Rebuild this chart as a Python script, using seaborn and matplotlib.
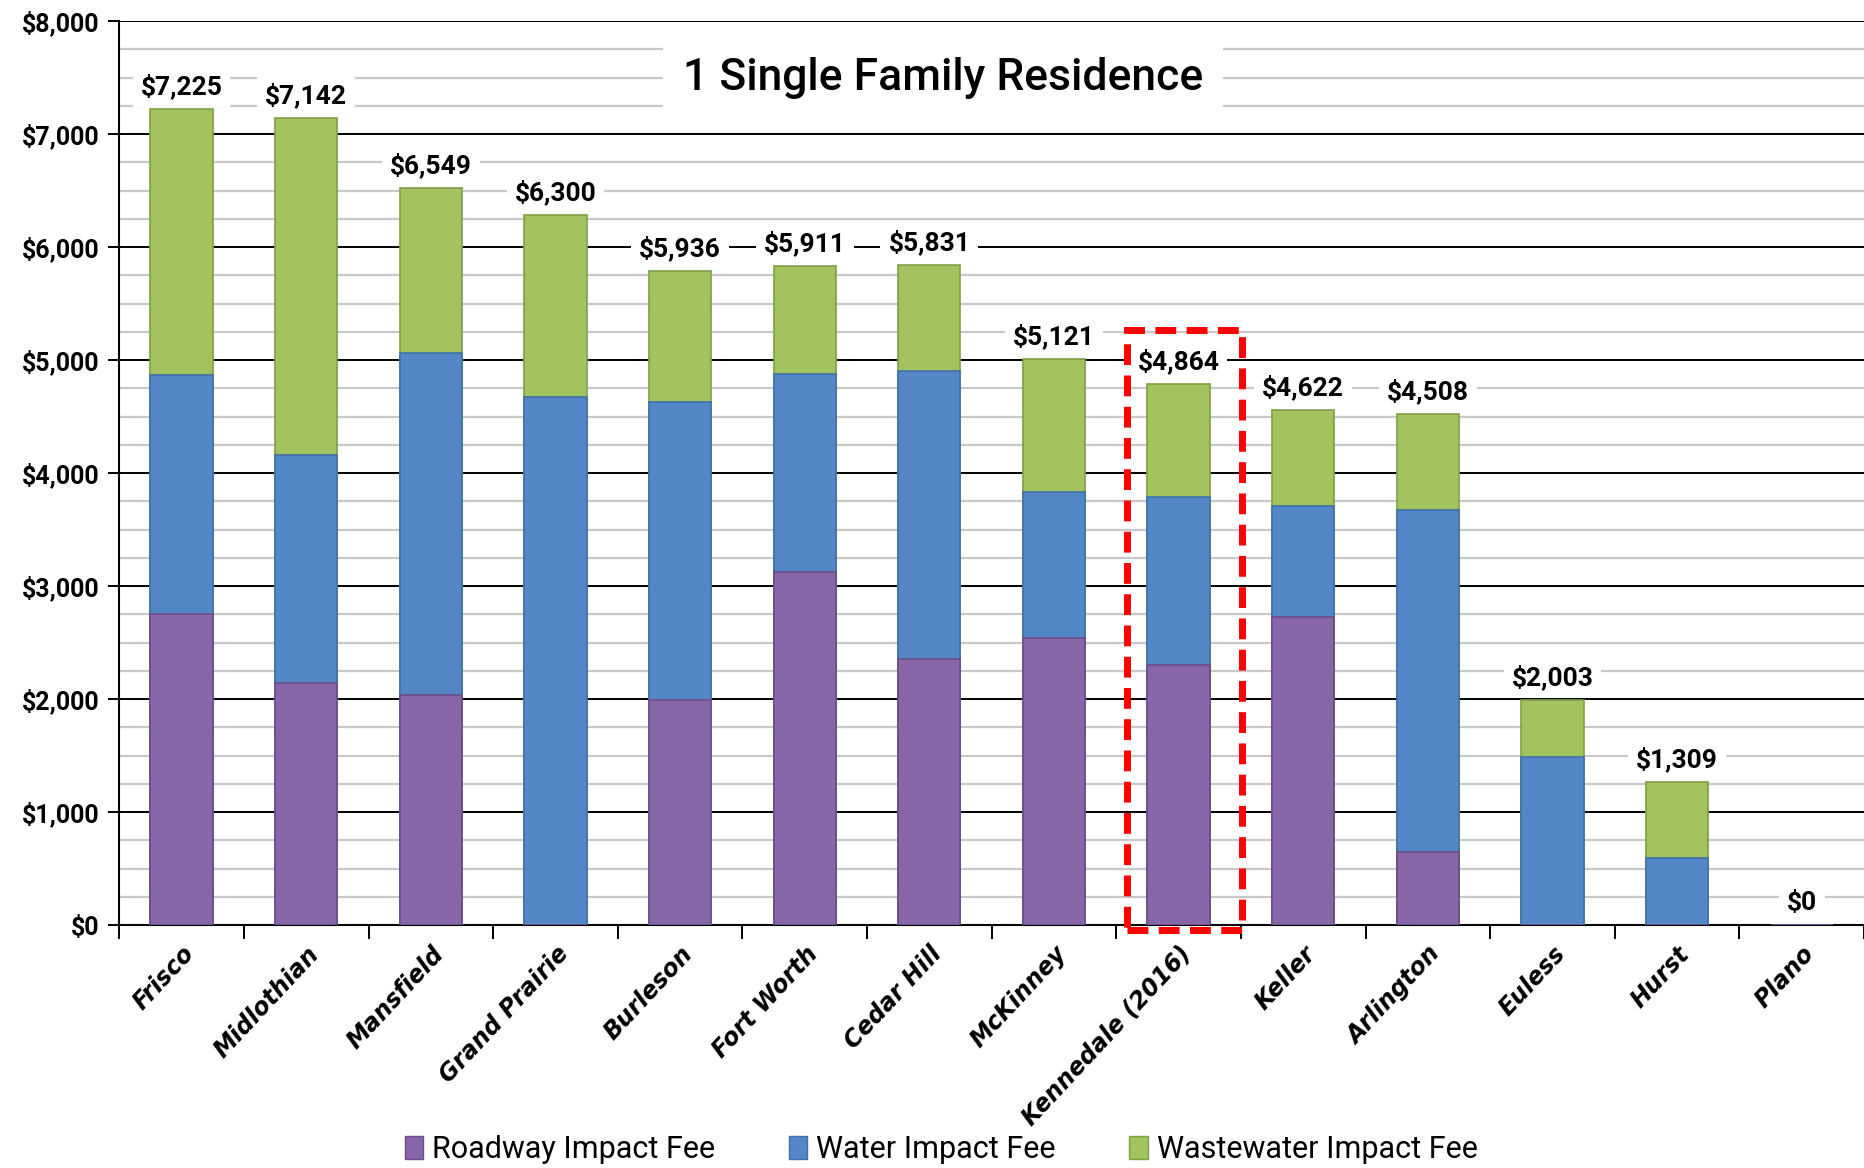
import matplotlib
matplotlib.use("Agg")
import numpy as np
import pandas as pd
import matplotlib.pyplot as plt
import seaborn as sns
from matplotlib.patches import Rectangle, Patch
from matplotlib.ticker import MultipleLocator, FuncFormatter

cities = ["Frisco", "Midlothian", "Mansfield", "Grand Prairie", "Burleson", "Fort Worth",
          "Cedar Hill", "McKinney", "Kennedale (2016)", "Keller", "Arlington", "Euless",
          "Hurst", "Plano"]
roadway = [2750, 2140, 2040, 0, 1990, 3125, 2350, 2540, 2305, 2730, 650, 0, 0, 0]
water = [2120, 2020, 3020, 4670, 2640, 1750, 2555, 1290, 1485, 975, 3020, 1490, 590, 0]
wastewater = [2355, 2982, 1460, 1615, 1160, 960, 935, 1180, 1000, 855, 850, 500, 680, 0]
total_labels = ["$7,225", "$7,142", "$6,549", "$6,300", "$5,936", "$5,911", "$5,831",
                "$5,121", "$4,864", "$4,622", "$4,508", "$2,003", "$1,309", "$0"]
series_names = ["Roadway Impact Fee", "Water Impact Fee", "Wastewater Impact Fee"]
colors = ["#8767A8", "#5387C7", "#A2C35E"]
edges = ["#6A4E88", "#3F6FA8", "#7F9E45"]

df = pd.DataFrame({"city": cities, "roadway": roadway, "water": water, "wastewater": wastewater})
df["lvl1"] = df["roadway"]
df["lvl2"] = df["roadway"] + df["water"]
df["lvl3"] = df["lvl2"] + df["wastewater"]

sns.set_style("white")
plt.rcParams["font.family"] = ["Roboto", "DejaVu Sans"]
plt.rcParams["text.color"] = "black"
plt.rcParams["xtick.color"] = "black"
plt.rcParams["ytick.color"] = "black"

fig = plt.figure(figsize=(18.64, 11.68), dpi=100)
ax = fig.add_axes([0.064, 0.208, 0.936, 0.774])

# draw back to front so the cumulative bars look stacked
for col, c, e in zip(["lvl3", "lvl2", "lvl1"], colors[::-1], edges[::-1]):
    sns.barplot(data=df, x="city", y=col, color=c, width=0.5, edgecolor=e,
                linewidth=1.2, saturation=1, ax=ax, zorder=3)

ax.set_ylim(0, 8000)
ax.set_xlim(-0.5, len(cities) - 0.5)
ax.yaxis.set_major_locator(MultipleLocator(1000))
ax.yaxis.set_minor_locator(MultipleLocator(250))
ax.yaxis.set_major_formatter(FuncFormatter(lambda v, p: f"${v:,.0f}"))
ax.grid(which="minor", axis="y", color="#C8C8C8", linewidth=1.6, zorder=0)
ax.grid(which="major", axis="y", color="black", linewidth=1.4, zorder=1)
ax.set_axisbelow(True)
ax.set_xlabel("")
ax.set_ylabel("")

for s in ["top", "right"]:
    ax.spines[s].set_visible(False)
for s in ["left", "bottom"]:
    ax.spines[s].set_color("black")
    ax.spines[s].set_linewidth(1.5)

ax.tick_params(axis="y", which="major", length=8, width=1.4, color="black", left=True,
               labelsize=18, pad=6)
ax.tick_params(axis="y", which="minor", length=0)
for t in ax.get_yticklabels():
    t.set_fontweight("bold")

ax.set_xticks(np.arange(len(cities)))
ax.set_xticks(np.arange(len(cities) + 1) - 0.5, minor=True)
ax.tick_params(axis="x", which="major", length=0, pad=12)
ax.tick_params(axis="x", which="minor", length=10, width=1.4, color="black", bottom=True)
ax.set_xticklabels(cities, rotation=47, ha="right", rotation_mode="anchor",
                   fontsize=17, fontweight="bold", fontstyle="italic",
                   family=["DejaVu Sans"])

for i, lab in enumerate(total_labels):
    ax.annotate(lab, (i, df["lvl3"][i]), xytext=(0, 7), textcoords="offset points",
                ha="center", va="bottom", fontsize=19, fontweight="bold",
                bbox=dict(boxstyle="square,pad=0.3", fc="white", ec="none"), zorder=4)

ax.text(0.472, 0.9375, "1 Single Family Residence", transform=ax.transAxes,
        ha="center", va="center", fontsize=32, fontweight="medium",
        bbox=dict(boxstyle="square,pad=0.45", fc="white", ec="none"), zorder=4)

# highlight box around Kennedale
ki = cities.index("Kennedale (2016)")
ax.add_patch(Rectangle((ki - 0.41, -40), 0.92, 5310, fill=False, ec="#FF0000", lw=5,
                       ls=(0, (3, 1.5)), clip_on=False, zorder=5))

handles = [Patch(facecolor=c, edgecolor=e) for c, e in zip(colors, edges)]
fig.legend(handles, series_names, loc="lower center", ncol=3, frameon=False,
           bbox_to_anchor=(0.505, -0.02), fontsize=22, handlelength=0.6, handleheight=0.8,
           handletextpad=0.3, columnspacing=2.4)

fig.savefig("out.png", dpi=100)
